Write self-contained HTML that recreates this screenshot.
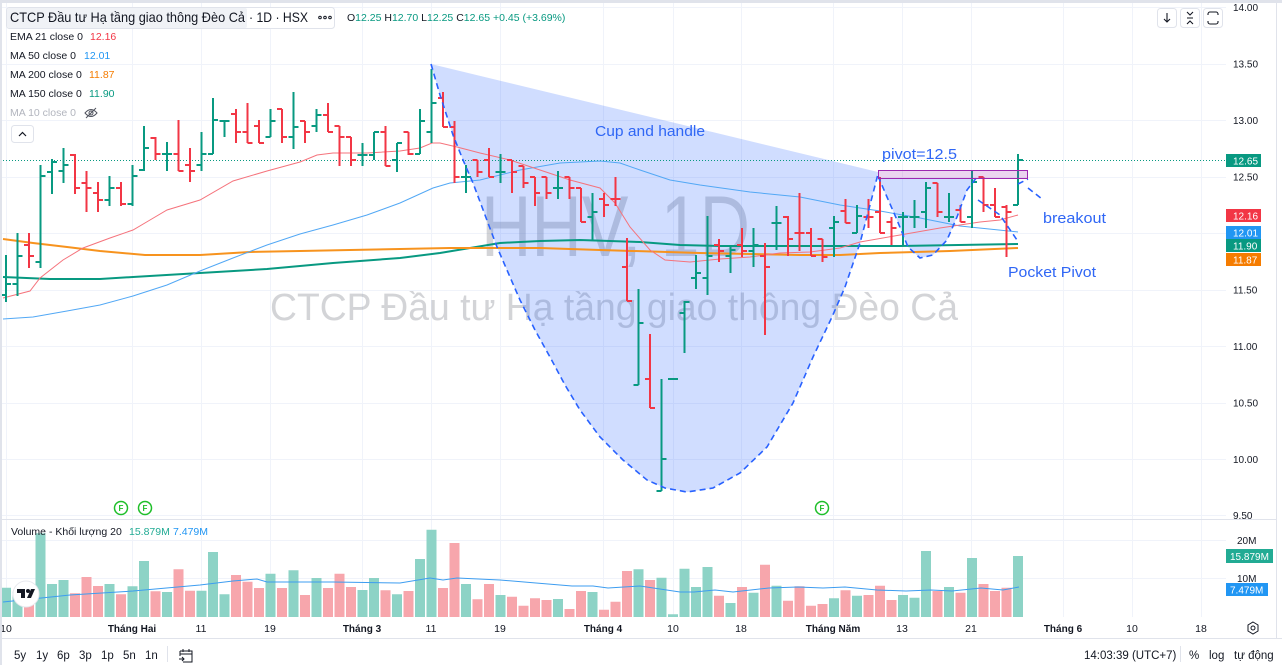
<!DOCTYPE html>
<html><head><meta charset="utf-8"><style>
html,body{margin:0;padding:0;background:#fff;}
svg{display:block;}
text{font-family:"Liberation Sans","Noto Sans CJK JP",sans-serif;}
</style></head><body>
<svg width="1282" height="665" viewBox="0 0 1282 665" xmlns="http://www.w3.org/2000/svg">
<rect x="0" y="0" width="1282" height="665" fill="#ffffff"/>
<!-- grid -->
<g stroke="#f0f3fa" stroke-width="1">
<path d="M0 7.5H1226M0 64.5H1226M0 120.5H1226M0 177.5H1226M0 233.5H1226M0 290.5H1226M0 346.5H1226M0 403.5H1226M0 459.5H1226M0 515.5H1226M0 540.5H1226M0 578.5H1226"/>
<path d="M6.5 3V617M132.5 3V617M201.5 3V617M270.5 3V617M362.5 3V617M431.5 3V617M500.5 3V617M603.5 3V617M673.5 3V617M741.5 3V617M833.5 3V617M902.5 3V617M971.5 3V617M1063.5 3V617M1132.5 3V617M1201.5 3V617"/>
</g>
<!-- watermark -->
<text x="481" y="256" font-size="86" fill="#787b86" fill-opacity="0.33" textLength="269" lengthAdjust="spacingAndGlyphs">HHV, 1D</text>
<text x="270" y="320" font-size="38" fill="#787b86" fill-opacity="0.33" textLength="688" lengthAdjust="spacingAndGlyphs">CTCP Đầu tư Hạ tầng giao thông Đèo Cả</text>
<!-- cup fill -->
<path d="M431 64 L878 172 L878 174 L870 205 L860 243 L845 287 L832 317 L813 357 L793 403 L767 447 L740 473 L713 488 L687 492 L665 488 L647 480 L623 460 L600 437 L580 410 L565 385 L550 357 L535 330 L520 300 L510 277 L497 247 L485 215 L473 183 L463 160 L453 135 L440 95 Z" fill="rgb(41,98,255)" fill-opacity="0.22"/>
<path d="M878 178 L887 197 L897 220 L908 247 L920 258 L933 255 L947 240 L957 217 L967 190 L977 178 Z" fill="rgb(41,98,255)" fill-opacity="0.22"/>
<!-- current price line -->
<path d="M0 160.5H1226" stroke="#089981" stroke-width="1" stroke-dasharray="1 2"/>
<!-- MAs -->
<polyline fill="none" stroke="#089981" stroke-width="2" points="3,277 50,279 100,279 133,277 200,273 267,269 333,263 400,258 440,253 500,243 540,241 580,240 640,242 680,245 720,246 840,246 900,246 1018,244"/>
<polyline fill="none" stroke="#f7931e" stroke-width="2" points="3,239 33,243 67,247 100,251 145,255 200,255 250,252 300,251 350,250 400,249 450,248 540,248 600,250 700,253 800,255 840,255 880,253 950,251 1018,248"/>
<polyline fill="none" stroke="#52a8f5" stroke-width="1" points="3,319 33,317 67,311 100,305 133,296 167,285 200,271 233,258 267,245 300,234 333,225 367,215 400,203 433,188 450,183 480,180 520,170 560,163 600,161 620,163 640,170 670,180 700,185 750,192 800,197 840,205 880,211 920,218 960,226 1018,232"/>
<polyline fill="none" stroke="#f5737c" stroke-width="1" points="3,298 30,291 40,278 63,260 83,248 110,238 133,230 150,220 167,210 200,200 233,181 267,171 300,162 317,155 333,153 367,153 400,151 420,148 432,143 440,143 457,147 480,153 510,160 540,170 570,180 600,188 615,203 630,227 650,250 665,260 690,262 720,259 750,257 780,253 810,252 840,248 860,242 900,235 940,228 980,222 1000,220 1018,215"/>
<!-- price bars -->
<path fill="none" stroke="#089981" stroke-width="2" d="M6 255V302M1 295H6M6 284H11M17.5 233V296M12.5 284H17.5M17.5 256H22.5M40.5 165V268M35.5 262H40.5M40.5 176H45.5M52 159V194M47 172H52M52 162H57M63.5 148V183M58.5 171H63.5M63.5 165H68.5M109.5 176V206M104.5 200H109.5M109.5 188H114.5M132.5 165V206M127.5 204H132.5M132.5 176H137.5M144 126V171M139 170H144M144 148H149M167 142V171M162 154H167M167 154H172M201.5 132V171M196.5 165H201.5M201.5 154H206.5M213 98V154M208 154H213M213 120H218M224.5 120V137M219.5 121H224.5M224.5 121H229.5M270.5 109V137M265.5 137H270.5M270.5 121H275.5M293.5 92V149M288.5 137H293.5M293.5 127H298.5M316.5 109V132M311.5 126H316.5M316.5 115H321.5M362.5 143V166M357.5 155H362.5M362.5 155H367.5M374 132V160M369 155H374M374 132H379M397 143V172M392 160H397M397 143H402M420 109V154M415 154H420M420 121H425M431.5 69V143M426.5 132H431.5M431.5 103H436.5M466 165V193M461 177H466M466 177H471M500.5 154V183M495.5 172H500.5M500.5 172H505.5M558 171V199M553 188H558M558 188H563M592.5 193V240M587.5 217H592.5M592.5 212H597.5M638.5 289V385M633.5 385H638.5M638.5 323H643.5M661.5 379V491M656.5 491H661.5M661.5 459H666.5M668 379H678M684.5 301V353M679.5 313H684.5M684.5 302H689.5M696 255V289M691 278H696M696 273H701M707.5 216V295M702.5 278H707.5M707.5 256H712.5M730.5 245V273M725.5 256H730.5M730.5 250H735.5M753.5 228V267M748.5 251H753.5M753.5 245H758.5M776.5 206V250M771.5 223H776.5M776.5 223H781.5M834 216V257M829 228H834M834 222H839M857 205V233M852 233H857M857 216H862M903 212V245M898 217H903M903 217H908M914.5 200V228M909.5 217H914.5M914.5 217H919.5M926 182V228M921 212H926M926 188H931M949 193V222M944 217H949M949 217H954M972 171V228M967 217H972M972 182H977M1018 154V205M1013 205H1018M1018 160H1023"/>
<path fill="none" stroke="#f23645" stroke-width="2" d="M29 233V268M24 245H29M29 256H34M75 154V194M70 155H75M75 188H80M86.5 171V212M81.5 183H86.5M86.5 188H91.5M98 182V212M93 193H98M98 200H103M121 182V206M116 188H121M121 204H126M155.5 137V160M150.5 138H155.5M155.5 154H160.5M178.5 120V171M173.5 154H178.5M178.5 171H183.5M190 148V182M185 165H190M190 171H195M236 109V143M231 114H236M236 132H241M247.5 103V143M242.5 132H247.5M247.5 143H252.5M259 120V143M254 126H259M259 143H264M282 109V143M277 109H282M282 137H287M305 121V143M300 121H305M305 132H310M328 103V132M323 115H328M328 132H333M339.5 126V166M334.5 126H339.5M339.5 137H344.5M351 137V166M346 137H351M351 160H356M385.5 126V166M380.5 132H385.5M385.5 166H390.5M408.5 132V155M403.5 132H408.5M408.5 154H413.5M443 92V127M438 98H443M443 127H448M454.5 121V183M449.5 127H454.5M454.5 177H459.5M477.5 160V177M472.5 160H477.5M477.5 172H482.5M489 148V177M484 160H489M489 177H494M512 160V193M507 160H512M512 172H517M523.5 166V188M518.5 166H523.5M523.5 183H528.5M535 177V206M530 177H535M535 193H540M546.5 177V199M541.5 177H546.5M546.5 193H551.5M569.5 177V199M564.5 177H569.5M569.5 188H574.5M581 188V222M576 188H581M581 222H586M604 193V217M599 199H604M604 205H609M615.5 177V206M610.5 199H615.5M615.5 199H620.5M627 238V301M622 267H627M627 301H632M650 334V408M645 379H650M650 408H655M719 239V262M714 245H719M719 251H724M742 228V257M737 245H742M742 251H747M765 243V335M760 256H765M765 267H770M788 216V256M783 217H788M788 239H793M799.5 193V251M794.5 233H799.5M799.5 233H804.5M811 228V256M806 233H811M811 256H816M822.5 239V262M817.5 239H822.5M822.5 257H827.5M845.5 199V223M840.5 211H845.5M845.5 223H850.5M868.5 199V228M863.5 217H868.5M868.5 217H873.5M880 177V233M875 212H880M880 233H885M891.5 217V245M886.5 222H891.5M891.5 228H896.5M937.5 183V217M932.5 183H937.5M937.5 212H942.5M960.5 205V222M955.5 210H960.5M960.5 222H965.5M983.5 177V212M978.5 177H983.5M983.5 205H988.5M995 188V217M990 205H995M995 217H1000M1006.5 205V257M1001.5 207H1006.5M1006.5 212H1011.5"/>
<!-- cup dashed -->
<g fill="none" stroke="#2962ff" stroke-width="1.6" stroke-dasharray="6 4">
<polyline points="431,64 440,95 453,135 463,160 473,183 485,215 497,247 510,277 520,300 535,330 550,357 565,385 580,410 600,437 623,460 647,480 665,488 687,492 713,488 740,473 767,447 793,403 813,357 832,317 845,287 860,243 870,205 878,174"/>
<polyline points="878,176 887,197 897,220 908,247 920,258 933,255 947,240 957,217 967,190 977,177"/>
<polyline points="978,200 1000,215 1017,240"/>
<polyline points="1018,184 1028,179"/>
<polyline points="1028,188 1042,199"/>
</g>
<!-- pivot box -->
<rect x="878.5" y="170.5" width="149" height="8" fill="rgb(156,39,176)" fill-opacity="0.2" stroke="#9c27b0" stroke-width="1"/>
<!-- annotations -->
<g fill="#2f66f5" font-size="15">
<text x="595" y="136" textLength="110" lengthAdjust="spacingAndGlyphs">Cup and handle</text>
<text x="882" y="159" textLength="75" lengthAdjust="spacingAndGlyphs">pivot=12.5</text>
<text x="1043" y="223" textLength="63" lengthAdjust="spacingAndGlyphs">breakout</text>
<text x="1008" y="277" textLength="88" lengthAdjust="spacingAndGlyphs">Pocket Pivot</text>
</g>
<!-- F markers -->
<g fill="#fff" stroke="#1fbf2a" stroke-width="1.5">
<circle cx="121" cy="508" r="6.5"/><circle cx="145" cy="508" r="6.5"/><circle cx="822" cy="508" r="6.5"/>
</g>
<g fill="#1fbf2a" font-size="8" font-weight="bold" text-anchor="middle">
<text x="121" y="511">F</text><text x="145" y="511">F</text><text x="822" y="511">F</text>
</g>
<!-- pane separator -->
<path d="M0 519.5H1277" stroke="#e0e3eb" stroke-width="1"/>
<!-- volume bars -->
<path fill="none" stroke="#8dd3c6" stroke-width="10" d="M6 587.7V617M17.5 591.7V617M40.5 533.3V617M52 584V617M63.5 580V617M109.5 584V617M132.5 586.3V617M144 561V617M167 592V617M201.5 590.7V617M213 552V617M224.5 594.3V617M270.5 573.7V617M293.5 570.3V617M316.5 578V617M362.5 590V617M374 578V617M397 594.3V617M420 559V617M431.5 529.7V617M466 584V617M500.5 595V617M558 599V617M592.5 592V617M638.5 569.3V617M661.5 577.7V617M673 614.3V617M684.5 568.7V617M696 587V617M707.5 567V617M730.5 603V617M753.5 592.7V617M776.5 585.7V617M834 598.3V617M857 595.7V617M903 595V617M914.5 597.7V617M926 551V617M949 587V617M972 558V617M1018 556V617"/>
<path fill="none" stroke="#f7a6ac" stroke-width="10" d="M29 603.3V617M75 593.3V617M86.5 577V617M98 586V617M121 594.3V617M155.5 591.3V617M178.5 569.3V617M190 590.7V617M236 575V617M247.5 581.7V617M259 588V617M282 588V617M305 595V617M328 588V617M339.5 573.7V617M351 587V617M385.5 590.3V617M408.5 591V617M443 588V617M454.5 543V617M477.5 599.3V617M489 584V617M512 596.7V617M523.5 605.7V617M535 598.3V617M546.5 600V617M569.5 609V617M581 591V617M604 609.7V617M615.5 601.7V617M627 571V617M650 580V617M719 595.7V617M742 587V617M765 564.7V617M788 600.7V617M799.5 586.3V617M811 605.7V617M822.5 604V617M845.5 590.3V617M868.5 595V617M880 585.7V617M891.5 600V617M937.5 591V617M960.5 592.7V617M983.5 584V617M995 591V617M1006.5 587.7V617"/>
<polyline fill="none" stroke="#3d9df0" stroke-width="1" points="3,602 70,595 133,591 200,585 233,581 257,579 267,582 333,582 400,583 430,578 443,580 457,578 500,580 536,583 572,586 593,586 608,588 640,586 680,592 694,592 715,590 733,592 769,588 798,587 823,588 845,587 877,590 906,591 931,590 952,591 981,588 1003,590 1019,587"/>
<!-- TV logo -->
<circle cx="26" cy="594" r="13" fill="#fff" stroke="#e8e9ee" stroke-width="1"/>
<path d="M17 589h8v9h-4v-5h-4z" fill="#131722"/>
<circle cx="28" cy="591" r="2" fill="#131722"/>
<path d="M31 589h4l-4 9h-4z" fill="#131722"/>
<!-- volume legend -->
<text x="11" y="535" font-size="10.5" fill="#131722">Volume - Khối lượng 20 <tspan x="129" fill="#22ab94">15.879M</tspan><tspan x="173" fill="#2196f3">7.479M</tspan></text>
<!-- top legend -->
<rect x="6.5" y="7.5" width="328" height="21" rx="3" fill="#fff" stroke="#e0e3eb"/>
<rect x="7" y="8" width="240" height="20" rx="2" fill="#f0f2f6"/>
<text x="10" y="22" font-size="14" fill="#131722" textLength="235" lengthAdjust="spacingAndGlyphs">CTCP Đầu tư Hạ tầng giao thông Đèo Cả</text>
<text x="249" y="22" font-size="14" fill="#131722" textLength="59" lengthAdjust="spacingAndGlyphs">· 1D · HSX</text>
<g fill="none" stroke="#131722" stroke-width="1"><circle cx="320" cy="17.5" r="1.3"/><circle cx="325" cy="17.5" r="1.3"/><circle cx="330" cy="17.5" r="1.3"/></g>
<text x="347" y="21" font-size="10.5" fill="#131722">O<tspan fill="#089981">12.25</tspan> H<tspan fill="#089981">12.70</tspan> L<tspan fill="#089981">12.25</tspan> C<tspan fill="#089981">12.65</tspan> <tspan fill="#089981">+0.45 (+3.69%)</tspan></text>
<g font-size="10.5">
<text x="10" y="40" fill="#131722">EMA 21 close 0<tspan x="90" fill="#f23645">12.16</tspan></text>
<text x="10" y="59" fill="#131722">MA 50 close 0<tspan x="84" fill="#2196f3">12.01</tspan></text>
<text x="10" y="78" fill="#131722">MA 200 close 0<tspan x="89" fill="#f57c00">11.87</tspan></text>
<text x="10" y="97" fill="#131722">MA 150 close 0<tspan x="89" fill="#089981">11.90</tspan></text>
<text x="10" y="116" fill="#b2b5be">MA 10 close 0</text>
</g>
<g fill="none" stroke="#50535e" stroke-width="1"><path d="M85 113q6-7 12 0q-6 7-12 0z"/><circle cx="91" cy="113" r="2"/><path d="M86 118L96 108"/></g>
<rect x="11.5" y="125.5" width="22" height="17" rx="3" fill="#fff" stroke="#e0e3eb"/>
<path d="M19 136l3.5-3.5 3.5 3.5" fill="none" stroke="#131722" stroke-width="1.2"/>
<!-- top-right buttons -->
<g fill="#fff" stroke="#e0e3eb"><rect x="1157.5" y="8.5" width="19" height="19" rx="3"/><rect x="1180.5" y="8.5" width="19" height="19" rx="3"/><rect x="1203.5" y="8.5" width="19" height="19" rx="3"/></g>
<g fill="none" stroke="#131722" stroke-width="1.1">
<path d="M1167 13V22M1164 19L1167 22L1170 19"/>
<path d="M1187 12L1190 15L1193 12M1187 24L1190 21L1193 24M1187 18H1193"/>
<path d="M1208 15v-1a2 2 0 0 1 2-2h6a2 2 0 0 1 2 2v1M1208 21v1a2 2 0 0 0 2 2h6a2 2 0 0 0 2-2v-1"/>
</g>
<!-- price axis -->
<g font-size="10" fill="#131722">
<text x="1233" y="11">14.00</text>
<text x="1233" y="67.5">13.50</text>
<text x="1233" y="124">13.00</text>
<text x="1233" y="180.5">12.50</text>
<text x="1233" y="293.5">11.50</text>
<text x="1233" y="350">11.00</text>
<text x="1233" y="406.5">10.50</text>
<text x="1233" y="463">10.00</text>
<text x="1233" y="519">9.50</text>
<text x="1237" y="544">20M</text>
<text x="1237" y="582">10M</text>
</g>
<rect x="1226" y="154" width="35" height="13" fill="#089981"/>
<rect x="1226" y="209" width="35" height="13" fill="#f23645"/>
<rect x="1226" y="226" width="35" height="13" fill="#2196f3"/>
<rect x="1226" y="239" width="35" height="13" fill="#089981"/>
<rect x="1226" y="253" width="35" height="13" fill="#f57c00"/>
<rect x="1226" y="549" width="47" height="14" fill="#22ab94"/>
<rect x="1226" y="583" width="42" height="13" fill="#2196f3"/>
<g font-size="10" fill="#fff">
<text x="1233" y="164.5">12.65</text>
<text x="1233" y="219.5">12.16</text>
<text x="1233" y="236.5">12.01</text>
<text x="1233" y="249.5">11.90</text>
<text x="1233" y="263.5">11.87</text>
<text x="1230" y="560">15.879M</text>
<text x="1230" y="593.5">7.479M</text>
</g>
<!-- time axis -->
<g font-size="10.5" fill="#131722" text-anchor="middle">
<text x="6" y="632">10</text>
<text x="132" y="632" font-weight="bold" font-size="10">Tháng Hai</text>
<text x="201" y="632">11</text>
<text x="270" y="632">19</text>
<text x="362" y="632" font-weight="bold" font-size="10">Tháng 3</text>
<text x="431" y="632">11</text>
<text x="500" y="632">19</text>
<text x="603" y="632" font-weight="bold" font-size="10">Tháng 4</text>
<text x="673" y="632">10</text>
<text x="741" y="632">18</text>
<text x="833" y="632" font-weight="bold" font-size="10">Tháng Năm</text>
<text x="902" y="632">13</text>
<text x="971" y="632">21</text>
<text x="1063" y="632" font-weight="bold" font-size="10">Tháng 6</text>
<text x="1132" y="632">10</text>
<text x="1201" y="632">18</text>
</g>
<g fill="none" stroke="#131722" stroke-width="1"><circle cx="1253" cy="628" r="2"/><path d="M1253 622l5 3v6l-5 3-5-3v-6z"/></g>
<!-- frame -->
<path d="M0 638.5H1282" stroke="#e0e3eb"/>
<path d="M1276.5 3V639" stroke="#e0e3eb"/>
<rect x="0" y="0" width="1282" height="3" fill="#e0e3eb"/>
<rect x="0" y="0" width="2" height="665" fill="#e0e3eb"/>
<!-- bottom toolbar -->
<g font-size="11.5" fill="#131722">
<text x="14" y="659">5y</text>
<text x="36" y="659">1y</text>
<text x="57" y="659">6p</text>
<text x="79" y="659">3p</text>
<text x="101" y="659">1p</text>
<text x="123" y="659">5n</text>
<text x="145" y="659">1n</text>
<text x="1084" y="659">14:03:39 (UTC+7)</text>
<text x="1189" y="659">%</text>
<text x="1209" y="659">log</text>
<text x="1234" y="659">tự động</text>
</g>
<path d="M167.5 646V662M1180.5 646V662" stroke="#e0e3eb"/>
<g fill="none" stroke="#131722" stroke-width="1"><path d="M180 651h12v11h-9M180 651v5M180 654h12M183 649v3M189 649v3M179 659h5M182 657l2 2-2 2"/></g>
</svg>
</body></html>
